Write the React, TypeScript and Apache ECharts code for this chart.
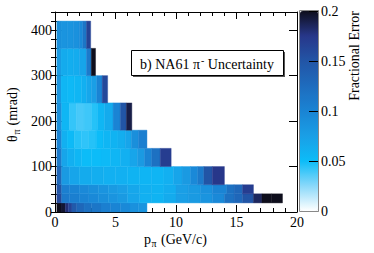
import React, { useEffect, useRef } from "react";
import * as echarts from "echarts";

// theta bin edges (mrad)
const thetaEdges = [0, 20, 40, 60, 100, 140, 180, 240, 300, 360, 420];

// momentum bin edges (GeV/c) and fractional errors, one pair per theta row
const pEdges0 = [0.15, 0.5, 0.85, 1.1, 1.4, 1.8, 2.4, 3.0, 3.8, 4.6, 5.4, 6.2, 6.9, 7.6];
const err0 = [0.2, 0.195, 0.18, 0.165, 0.145, 0.13, 0.12, 0.115, 0.105, 0.1, 0.095, 0.088, 0.085];

const pEdges1 = [0.15, 0.55, 1.2, 2.0, 2.8, 3.6, 4.4, 5.2, 6.0, 7.0, 8.0, 9.0, 10.0, 11.0, 12.0, 13.0, 14.0, 14.8, 15.5, 16.4, 17.1, 17.9, 18.8];
const err1 = [0.16, 0.11, 0.105, 0.1, 0.095, 0.09, 0.085, 0.08, 0.07, 0.06, 0.058, 0.065, 0.075, 0.08, 0.085, 0.095, 0.12, 0.13, 0.15, 0.185, 0.2, 0.2];

const pEdges2 = [0.15, 0.55, 1.2, 2.0, 2.8, 3.6, 4.4, 5.2, 6.0, 7.0, 8.0, 9.0, 10.0, 11.0, 12.0, 13.0, 14.2, 14.8, 15.5, 16.4];
const err2 = [0.15, 0.105, 0.1, 0.095, 0.09, 0.085, 0.08, 0.075, 0.068, 0.06, 0.058, 0.063, 0.075, 0.08, 0.088, 0.1, 0.12, 0.13, 0.17];

const pEdges3 = [0.15, 0.55, 1.2, 2.0, 3.0, 4.0, 5.0, 6.0, 7.0, 8.0, 9.0, 9.8, 10.5, 11.2, 11.8, 12.3, 13.0, 14.0];
const err3 = [0.13, 0.08, 0.07, 0.065, 0.062, 0.06, 0.06, 0.058, 0.056, 0.056, 0.06, 0.07, 0.08, 0.095, 0.11, 0.15, 0.175];

const pEdges4 = [0.15, 0.55, 1.0, 1.6, 2.2, 3.0, 3.8, 4.6, 5.4, 6.2, 6.8, 7.4, 8.0, 8.7, 9.6];
const err4 = [0.11, 0.07, 0.06, 0.055, 0.05, 0.05, 0.052, 0.055, 0.06, 0.07, 0.08, 0.1, 0.12, 0.17];

const pEdges5 = [0.15, 0.55, 1.0, 1.6, 2.2, 2.8, 3.4, 4.0, 4.6, 5.2, 5.8, 6.3, 6.9, 7.6];
const err5 = [0.1, 0.06, 0.052, 0.045, 0.043, 0.045, 0.05, 0.055, 0.058, 0.062, 0.07, 0.09, 0.105];

const pEdges6 = [0.15, 0.55, 1.2, 1.8, 2.4, 3.0, 3.5, 4.1, 4.8, 5.4, 5.9, 6.35];
const err6 = [0.09, 0.055, 0.042, 0.038, 0.04, 0.045, 0.055, 0.065, 0.1, 0.15, 0.19];

const pEdges7 = [0.15, 0.5, 1.0, 1.6, 2.2, 2.6, 3.0, 3.45, 3.9, 4.35];
const err7 = [0.085, 0.055, 0.053, 0.055, 0.06, 0.068, 0.075, 0.1, 0.16];

const pEdges8 = [0.15, 0.5, 1.0, 1.5, 2.0, 2.6, 3.0, 3.35];
const err8 = [0.08, 0.065, 0.062, 0.064, 0.07, 0.11, 0.2];

const pEdges9 = [0.15, 0.5, 1.0, 1.5, 2.0, 2.3, 2.6, 2.95];
const err9 = [0.09, 0.085, 0.085, 0.088, 0.095, 0.115, 0.165];

const pEdgesRows = [pEdges0, pEdges1, pEdges2, pEdges3, pEdges4, pEdges5, pEdges6, pEdges7, pEdges8, pEdges9];
const errRows = [err0, err1, err2, err3, err4, err5, err6, err7, err8, err9];

const paletteColors = ["#ffffff", "#8ad8fa", "#0cbcf8", "#1a9fe6", "#1a84d4", "#1e6cbe", "#2255a6", "#27378a", "#0e0e1c"];

const FONT = "'Liberation Serif', 'DejaVu Serif', serif";

export default function App() {
  const ref = useRef<HTMLDivElement>(null);
  useEffect(() => {
    document.body.style.margin = "0";
    const chart = echarts.init(ref.current!, null, { renderer: "svg" });
    const cells: number[][] = [];
    pEdgesRows.forEach((edges, r) => {
      errRows[r].forEach((v, i) => {
        cells.push([edges[i], edges[i + 1], thetaEdges[r], thetaEdges[r + 1], v]);
      });
    });
    const black = { color: "#000", width: 1 };
    const label = { color: "#000", fontSize: 14, fontFamily: FONT };
    const txt = (t: string, x: number, y: number, size: number, align: string = "left") => ({
      type: "text",
      x,
      y,
      style: { text: t, fill: "#000", fontSize: size, fontFamily: FONT, align, verticalAlign: "middle" },
    });
    const option: any = {
      animation: false,
      grid: [
        { left: 55, top: 12, width: 242, height: 200, outerBoundsMode: "none" },
        { left: 300, top: 11, width: 18, height: 200, outerBoundsMode: "none" },
      ],
      xAxis: [
        {
          type: "value", gridIndex: 0, min: 0, max: 20, interval: 5, position: "bottom",
          axisLine: { show: true, onZero: false, lineStyle: black },
          axisTick: { show: true, inside: true, length: 7, lineStyle: black },
          minorTick: { show: true, splitNumber: 5, length: 4, lineStyle: black },
          axisLabel: { ...label, margin: 3 },
          splitLine: { show: false },
        },
        {
          type: "value", gridIndex: 0, min: 0, max: 20, interval: 5, position: "top",
          axisLine: { show: true, onZero: false, lineStyle: black },
          axisTick: { show: true, inside: true, length: 7, lineStyle: black },
          minorTick: { show: true, splitNumber: 5, length: 4, lineStyle: black },
          axisLabel: { show: false },
          splitLine: { show: false },
        },
        { type: "value", gridIndex: 1, min: 0, max: 1, show: false },
      ],
      yAxis: [
        {
          type: "value", gridIndex: 0, min: 0, max: 440, interval: 100, position: "left",
          axisLine: { show: true, onZero: false, lineStyle: black },
          axisTick: { show: true, inside: true, length: 8, lineStyle: black },
          axisLabel: { ...label, margin: 3, formatter: (v: number) => (v % 100 === 0 ? String(v) : "") },
          splitLine: { show: false },
        },
        {
          type: "value", gridIndex: 0, min: 0, max: 440, interval: 20, position: "left",
          axisLine: { show: false },
          axisTick: { show: true, inside: true, length: 4, lineStyle: black },
          axisLabel: { show: false },
          splitLine: { show: false },
        },
        {
          type: "value", gridIndex: 0, min: 0, max: 440, interval: 100, position: "right",
          axisLine: { show: true, onZero: false, lineStyle: black },
          axisTick: { show: true, inside: true, length: 8, lineStyle: black },
          axisLabel: { show: false },
          splitLine: { show: false },
        },
        {
          type: "value", gridIndex: 0, min: 0, max: 440, interval: 20, position: "right",
          axisLine: { show: false },
          axisTick: { show: true, inside: true, length: 4, lineStyle: black },
          axisLabel: { show: false },
          splitLine: { show: false },
        },
        {
          type: "value", gridIndex: 1, min: 0, max: 0.2, interval: 0.05, position: "right",
          axisLine: { show: true, onZero: false, lineStyle: { color: "#777", width: 1 } },
          axisTick: { show: true, inside: true, length: 9, lineStyle: black },
          axisLabel: { ...label, margin: 3, formatter: (v: number) => String(parseFloat(v.toFixed(3))) },
          splitLine: { show: false },
          z: 10,
        },
      ],
      visualMap: {
        type: "continuous",
        min: 0,
        max: 0.2,
        dimension: 4,
        seriesIndex: 0,
        orient: "vertical",
        left: 300,
        top: 11,
        itemWidth: 18,
        itemHeight: 200,
        padding: 0,
        calculable: false,
        realtime: false,
        text: null,
        inRange: { color: paletteColors },
      },
      series: [
        {
          type: "custom",
          xAxisIndex: 0,
          yAxisIndex: 0,
          encode: { x: [0, 1], y: [2, 3] },
          data: cells,
          renderItem: (params: any, api: any) => {
            const a = api.coord([api.value(0), api.value(2)]);
            const b = api.coord([api.value(1), api.value(3)]);
            const c = api.visual("color");
            return {
              type: "rect",
              shape: { x: a[0], y: b[1], width: b[0] - a[0], height: a[1] - b[1] },
              style: { fill: c, stroke: c, lineWidth: 0.4 },
            };
          },
        },
      ],
      graphic: [
        { type: "rect", z: 20, shape: { x: 299.5, y: 10.5, width: 19, height: 201 }, style: { fill: "none", stroke: "#888", lineWidth: 1 } },
        { type: "rect", z: 20, shape: { x: 133, y: 52, width: 152, height: 25 }, style: { fill: "#555" } },
        { type: "rect", z: 21, shape: { x: 131.5, y: 50.5, width: 152, height: 25 }, style: { fill: "#fff", stroke: "#000", lineWidth: 1 } },
        {
          type: "text", x: 207, y: 63, z: 22,
          style: {
            text: "{a|b) NA61 π}{s|-}{a| Uncertainty}",
            align: "center",
            verticalAlign: "middle",
            fill: "#000",
            fontFamily: FONT,
            rich: {
              a: { fontSize: 14, fontFamily: FONT, lineHeight: 16, verticalAlign: "bottom", fill: "#000" },
              s: { fontSize: 10, fontFamily: FONT, lineHeight: 16, verticalAlign: "top", padding: [0, 0, 0, 1], fill: "#000" },
            },
          },
        },
        {
          type: "group", x: 144, y: 239, z: 22,
          children: [txt("p", 0, 0, 14), txt("π", 7.5, 4, 10), txt("(GeV/c)", 17, 0, 14)],
        },
        {
          type: "group", x: 12, y: 142, rotation: Math.PI / 2, z: 22,
          children: [txt("θ", 0, 0, 14), txt("π", 7.5, 4, 10), txt("(mrad)", 16.5, 0, 14)],
        },
        {
          type: "group", x: 354, y: 11, rotation: Math.PI / 2, z: 22,
          children: [txt("Fractional Error", 0, 0, 14, "right")],
        },
      ],
    };
    chart.setOption(option);
    return () => chart.dispose();
  }, []);
  return <div ref={ref} style={{ width: 374, height: 253 }} />;
}
